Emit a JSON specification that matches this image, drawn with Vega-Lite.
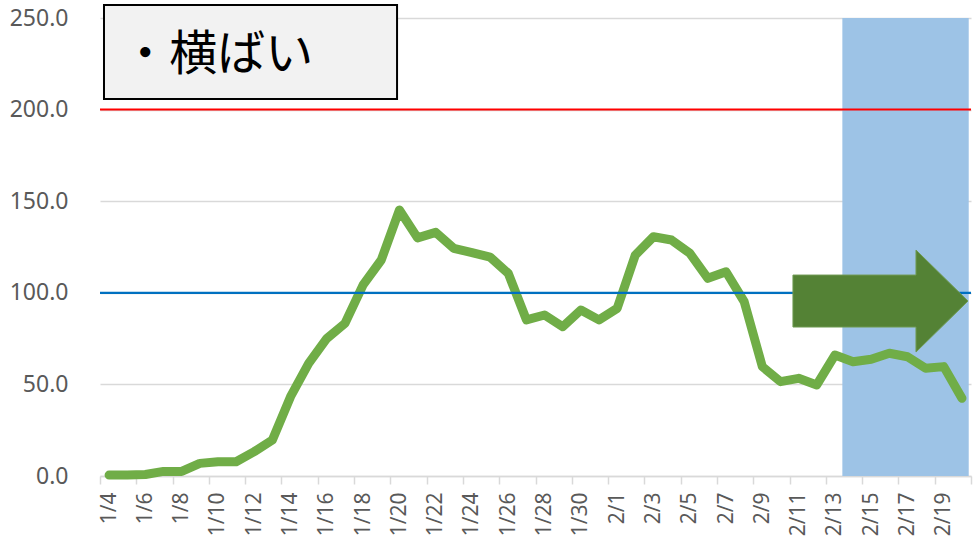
{
  "$schema": "https://vega.github.io/schema/vega-lite/v6.json",
  "autosize": "none",
  "width": 871,
  "height": 458,
  "padding": {"left": 100, "top": 18, "right": 7, "bottom": 72},
  "background": "white",
  "config": {
    "font": "Noto Sans",
    "view": {"stroke": null},
    "axisX": {
      "title": null,
      "grid": false,
      "labelOffset": 9.07,
      "labelAngle": -90,
      "labelAlign": "right",
      "labelBaseline": "middle",
      "labelPadding": 8,
      "labelFontSize": 21,
      "labelColor": "#595959",
      "labelOverlap": false,
      "labelBound": false,
      "labelFlush": false,
      "domainColor": "#d9d9d9",
      "domainWidth": 1.5,
      "tickColor": "#d9d9d9",
      "tickWidth": 1.5,
      "tickSize": 8
    },
    "axisY": {
      "title": null,
      "domain": false,
      "ticks": false,
      "grid": true,
      "gridColor": "#d9d9d9",
      "gridWidth": 1.5,
      "labelFontSize": 23,
      "labelColor": "#595959",
      "labelPadding": 32
    }
  },
  "layer": [
    {
      "data": {"values": [{"period": "shade"}]},
      "mark": {"type": "rect", "color": "#9dc3e6", "xOffset": -10.7, "x2Offset": 6.8},
      "encoding": {
        "x": {"datum": {"year": 2021, "month": 2, "date": 14, "utc": true}, "type": "temporal"},
        "x2": {"datum": {"year": 2021, "month": 2, "date": 20, "utc": true}},
        "y": {"datum": 0, "type": "quantitative"},
        "y2": {"datum": 250}
      }
    },
    {
      "data": {"values": [
        {"date": "2021-01-04", "value": 0.5},
        {"date": "2021-01-05", "value": 0.5},
        {"date": "2021-01-06", "value": 0.8},
        {"date": "2021-01-07", "value": 2.5},
        {"date": "2021-01-08", "value": 2.5},
        {"date": "2021-01-09", "value": 6.9},
        {"date": "2021-01-10", "value": 7.8},
        {"date": "2021-01-11", "value": 7.8},
        {"date": "2021-01-12", "value": 13.3},
        {"date": "2021-01-13", "value": 19.7},
        {"date": "2021-01-14", "value": 43.3},
        {"date": "2021-01-15", "value": 61.5},
        {"date": "2021-01-16", "value": 75.1},
        {"date": "2021-01-17", "value": 83.3},
        {"date": "2021-01-18", "value": 104.3},
        {"date": "2021-01-19", "value": 117.9},
        {"date": "2021-01-20", "value": 145.2},
        {"date": "2021-01-21", "value": 130.0},
        {"date": "2021-01-22", "value": 133.0},
        {"date": "2021-01-23", "value": 124.3},
        {"date": "2021-01-24", "value": 121.9},
        {"date": "2021-01-25", "value": 119.5},
        {"date": "2021-01-26", "value": 110.6},
        {"date": "2021-01-27", "value": 85.2},
        {"date": "2021-01-28", "value": 87.9},
        {"date": "2021-01-29", "value": 81.5},
        {"date": "2021-01-30", "value": 90.6},
        {"date": "2021-01-31", "value": 85.2},
        {"date": "2021-02-01", "value": 91.5},
        {"date": "2021-02-02", "value": 120.6},
        {"date": "2021-02-03", "value": 130.6},
        {"date": "2021-02-04", "value": 128.8},
        {"date": "2021-02-05", "value": 121.6},
        {"date": "2021-02-06", "value": 107.9},
        {"date": "2021-02-07", "value": 111.5},
        {"date": "2021-02-08", "value": 95.2},
        {"date": "2021-02-09", "value": 59.7},
        {"date": "2021-02-10", "value": 51.5},
        {"date": "2021-02-11", "value": 53.3},
        {"date": "2021-02-12", "value": 49.7},
        {"date": "2021-02-13", "value": 66.0},
        {"date": "2021-02-14", "value": 62.4},
        {"date": "2021-02-15", "value": 63.7},
        {"date": "2021-02-16", "value": 67.0},
        {"date": "2021-02-17", "value": 65.1},
        {"date": "2021-02-18", "value": 58.8},
        {"date": "2021-02-19", "value": 59.7},
        {"date": "2021-02-20", "value": 42.4}
      ]},
      "mark": {"type": "line", "color": "#70ad47", "strokeWidth": 9, "strokeCap": "round", "strokeJoin": "round"},
      "encoding": {
        "x": {
          "field": "date",
          "type": "temporal",
          "scale": {
            "type": "utc",
            "domain": [
              {"year": 2021, "month": 1, "date": 3, "hours": 12, "utc": true},
              {"year": 2021, "month": 2, "date": 20, "hours": 12, "utc": true}
            ]
          },
          "axis": {
            "tickCount": 100,
            "values": [
              {"year": 2021, "month": 1, "date": 3, "hours": 12, "utc": true},
              {"year": 2021, "month": 1, "date": 5, "hours": 12, "utc": true},
              {"year": 2021, "month": 1, "date": 7, "hours": 12, "utc": true},
              {"year": 2021, "month": 1, "date": 9, "hours": 12, "utc": true},
              {"year": 2021, "month": 1, "date": 11, "hours": 12, "utc": true},
              {"year": 2021, "month": 1, "date": 13, "hours": 12, "utc": true},
              {"year": 2021, "month": 1, "date": 15, "hours": 12, "utc": true},
              {"year": 2021, "month": 1, "date": 17, "hours": 12, "utc": true},
              {"year": 2021, "month": 1, "date": 19, "hours": 12, "utc": true},
              {"year": 2021, "month": 1, "date": 21, "hours": 12, "utc": true},
              {"year": 2021, "month": 1, "date": 23, "hours": 12, "utc": true},
              {"year": 2021, "month": 1, "date": 25, "hours": 12, "utc": true},
              {"year": 2021, "month": 1, "date": 27, "hours": 12, "utc": true},
              {"year": 2021, "month": 1, "date": 29, "hours": 12, "utc": true},
              {"year": 2021, "month": 1, "date": 31, "hours": 12, "utc": true},
              {"year": 2021, "month": 2, "date": 2, "hours": 12, "utc": true},
              {"year": 2021, "month": 2, "date": 4, "hours": 12, "utc": true},
              {"year": 2021, "month": 2, "date": 6, "hours": 12, "utc": true},
              {"year": 2021, "month": 2, "date": 8, "hours": 12, "utc": true},
              {"year": 2021, "month": 2, "date": 10, "hours": 12, "utc": true},
              {"year": 2021, "month": 2, "date": 12, "hours": 12, "utc": true},
              {"year": 2021, "month": 2, "date": 14, "hours": 12, "utc": true},
              {"year": 2021, "month": 2, "date": 16, "hours": 12, "utc": true},
              {"year": 2021, "month": 2, "date": 18, "hours": 12, "utc": true},
              {"year": 2021, "month": 2, "date": 20, "hours": 12, "utc": true}
            ],
            "labelExpr": "datum.value >= 1613779200000 ? '' : utcFormat(datum.value + 43200000, '%-m/%-d')",
            "labelOverlap": false
          }
        },
        "y": {
          "field": "value",
          "type": "quantitative",
          "scale": {"domain": [0, 250], "nice": false, "zero": true},
          "axis": {
            "values": [0, 50, 100, 150, 200, 250],
            "format": ".1f"
          }
        }
      }
    },
    {
      "data": {"values": [{"ref": 200}]},
      "mark": {"type": "rule", "color": "#ff0000", "strokeWidth": 2},
      "encoding": {"y": {"datum": 200, "type": "quantitative"}}
    },
    {
      "data": {"values": [{"ref": 100}]},
      "mark": {"type": "rule", "color": "#0070c0", "strokeWidth": 2.2},
      "encoding": {"y": {"datum": 100, "type": "quantitative"}}
    },
    {
      "data": {"values": [{"arrow": "flat"}]},
      "mark": {
        "type": "point",
        "shape": "M-1,-0.297L0.406,-0.297L0.406,-0.583L1,0L0.406,0.583L0.406,0.297L-1,0.297Z",
        "size": 30625,
        "filled": true,
        "fill": "#548235",
        "stroke": "#6f9a52",
        "strokeWidth": 1,
        "opacity": 1
      },
      "encoding": {
        "x": {"datum": {"year": 2021, "month": 2, "date": 15, "hours": 12, "minutes": 15, "utc": true}, "type": "temporal"},
        "y": {"datum": 95.5, "type": "quantitative"}
      }
    },
    {
      "data": {"values": [{"label": "・横ばい"}]},
      "mark": {"type": "rect", "fill": "#f2f2f2", "stroke": "#000000", "strokeWidth": 2},
      "encoding": {
        "x": {"datum": {"year": 2021, "month": 1, "date": 3, "hours": 17, "minutes": 17, "utc": true}, "type": "temporal"},
        "x2": {"datum": {"year": 2021, "month": 1, "date": 19, "hours": 20, "minutes": 53, "utc": true}},
        "y": {"datum": 205.8, "type": "quantitative"},
        "y2": {"datum": 257.1}
      }
    },
    {
      "data": {"values": [{"label": "・横ばい"}]},
      "mark": {"type": "text", "font": "Noto Sans CJK JP", "fontSize": 48, "color": "#000000", "align": "left", "baseline": "middle"},
      "encoding": {
        "x": {"datum": {"year": 2021, "month": 1, "date": 4, "hours": 16, "utc": true}, "type": "temporal"},
        "y": {"datum": 229.5, "type": "quantitative"},
        "text": {"field": "label"}
      }
    }
  ]
}
